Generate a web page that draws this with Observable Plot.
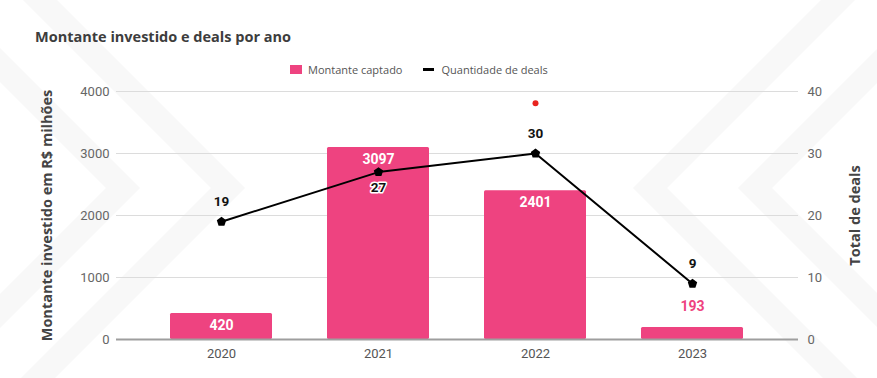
<!DOCTYPE html>
<html>
<head>
<meta charset="utf-8">
<script src="https://cdn.jsdelivr.net/npm/d3@7"></script>
<script src="https://cdn.jsdelivr.net/npm/@observablehq/plot@0.6"></script>
<style>
  html, body { margin: 0; padding: 0; background: #fff; }
  #wrap { position: relative; width: 877px; height: 378px; overflow: hidden; font-family: Roboto, sans-serif; }
  #bg { position: absolute; left: 0; top: 0; }
  #chart { position: absolute; left: 0; top: 0; }
  #title { position: absolute; left: 35px; top: 27px; font-family: "Open Sans", sans-serif; font-weight: 700; font-size: 14.5px; color: #3d3d3d; white-space: nowrap; }
  #legend { position: absolute; left: 290px; top: 62px; font-family: "Open Sans", sans-serif; font-size: 11px; color: #555; display: flex; align-items: center; white-space: nowrap; }
  .sw { display: inline-block; width: 12px; height: 9px; background: #ee4380; margin-right: 6px; }
  .ln { display: inline-block; width: 11px; height: 3px; background: #000; margin-left: 21px; margin-right: 7px; }
</style>
</head>
<body>
<div id="wrap">
  <svg id="bg" width="877" height="378"></svg>
  <div id="chart"></div>
  <div id="title">Montante investido e deals por ano</div>
  <div id="legend"><span class="sw"></span><span>Montante captado</span><span class="ln"></span><span>Quantidade de deals</span></div>
</div>
<script>
// ---- data ----
const years = ["2020", "2021", "2022", "2023"];
const amounts = [420, 3097, 2401, 193];     // R$ milhões
const deals = [19, 27, 30, 9];
const leftTicks = [0, 1000, 2000, 3000, 4000];
const rightTicks = [0, 10, 20, 30, 40];
const strayYear = ["2022"];                 // small red marker in the original
const strayValue = [38.1];                  // on the deals scale

const PINK = "#ee4380";
const ratio = 100; // 40 deals == 4000

const barData = years.map((y, i) => ({year: y, value: amounts[i]}));
const dealData = years.map((y, i) => ({year: y, deals: deals[i], v: deals[i] * ratio}));
const strayData = strayYear.map((y, i) => ({year: y, v: strayValue[i] * ratio}));

// background watermark chevrons (decoration)
(function () {
  const bg = d3.select("#bg");
  const ay = 188, t = 34, top = -20, bot = 400;
  function right(ax) { // ">" with outer apex ax
    const pts = [[ax - (ay - top), top], [ax, ay], [ax - (bot - ay), bot], [ax - t - (bot - ay), bot], [ax - t, ay], [ax - t - (ay - top), top]];
    bg.append("polygon").attr("points", pts.map(p => p.join(",")).join(" ")).attr("fill", "#f8f8f8");
  }
  function left(ax) { // "<" with outer apex ax
    const pts = [[ax + (ay - top), top], [ax, ay], [ax + (bot - ay), bot], [ax + t + (bot - ay), bot], [ax + t, ay], [ax + t + (ay - top), top]];
    bg.append("polygon").attr("points", pts.map(p => p.join(",")).join(" ")).attr("fill", "#f8f8f8");
  }
  right(140); right(245); left(633); left(738);
})();

const pentagon = {
  draw(context, size) {
    const r = Math.sqrt(size / Math.PI) * 1.1;
    for (let i = 0; i < 5; i++) {
      const a = -Math.PI / 2 + i * 2 * Math.PI / 5;
      const x = r * Math.cos(a), y = r * Math.sin(a);
      if (i === 0) context.moveTo(x, y); else context.lineTo(x, y);
    }
    context.closePath();
  }
};

const plot = Plot.plot({
  width: 877,
  height: 378,
  marginTop: 91,
  marginBottom: 39,
  marginLeft: 116,
  marginRight: 79,
  style: {fontFamily: "Roboto, sans-serif", fontSize: "13px", background: "transparent", overflow: "visible"},
  x: {type: "band", domain: years, paddingInner: 0.35, paddingOuter: 0.34, label: null},
  y: {domain: [0, 4000], label: null},
  marks: [
    Plot.gridY(leftTicks, {stroke: "#dcdcdc", strokeOpacity: 1, strokeWidth: 1}),
    Plot.axisY(leftTicks, {anchor: "left", tickSize: 0, tickPadding: 7, fill: "#666", fontSize: 13, tickFormat: d => String(d), label: null}),
    Plot.axisY(rightTicks.map(d => d * ratio), {anchor: "right", tickSize: 0, tickPadding: 9, fill: "#666", fontSize: 13, tickFormat: d => String(d / ratio), label: null}),
    Plot.axisX({tickSize: 0, tickPadding: 9, fill: "#555", fontSize: 13, label: null}),
    Plot.barY(barData, {x: "year", y: "value", fill: PINK, rx: 1.5}),
    Plot.ruleY([0], {stroke: "#9e9e9e", strokeWidth: 2}),
    Plot.text(barData, {x: "year", y: "value", text: d => String(d.value),
      fill: "#fff", fontWeight: "bold", fontSize: 14, filter: d => d.value >= 300, dy: 12}),
    Plot.text(barData, {x: "year", y: "value", text: d => String(d.value),
      fill: PINK, fontWeight: "bold", fontSize: 14, filter: d => d.value < 300, dy: -21}),
    Plot.line(dealData, {x: "year", y: "v", stroke: "#000", strokeWidth: 2}),
    Plot.dot(dealData, {x: "year", y: "v", symbol: pentagon, r: 4.5, fill: "#000"}),
    Plot.text(dealData, {x: "year", y: "v", text: d => String(d.deals), filter: d => d.year !== "2021",
      dy: -20, fill: "#111", fontWeight: "bold", fontSize: 13.5}),
    Plot.text(dealData, {x: "year", y: "v", text: d => String(d.deals), filter: d => d.year === "2021",
      dy: 16, fill: "#111", stroke: "#fff", strokeWidth: 3, fontWeight: "bold", fontSize: 13.5}),
    Plot.dot(strayData, {x: "year", y: "v", r: 3, fill: "#e8231f"}),
    Plot.text(["Montante investido em R$ milhões"], {frameAnchor: "left", dx: -69, rotate: -90, textAnchor: "middle",
      fill: "#444", fontWeight: "bold", fontSize: 14.5, fontFamily: "'Open Sans', sans-serif"}),
    Plot.text(["Total de deals"], {frameAnchor: "right", dx: 57, rotate: -90, textAnchor: "middle",
      fill: "#444", fontWeight: "bold", fontSize: 14.5, fontFamily: "'Open Sans', sans-serif"})
  ]
});
document.getElementById("chart").appendChild(plot);
</script>
</body>
</html>
